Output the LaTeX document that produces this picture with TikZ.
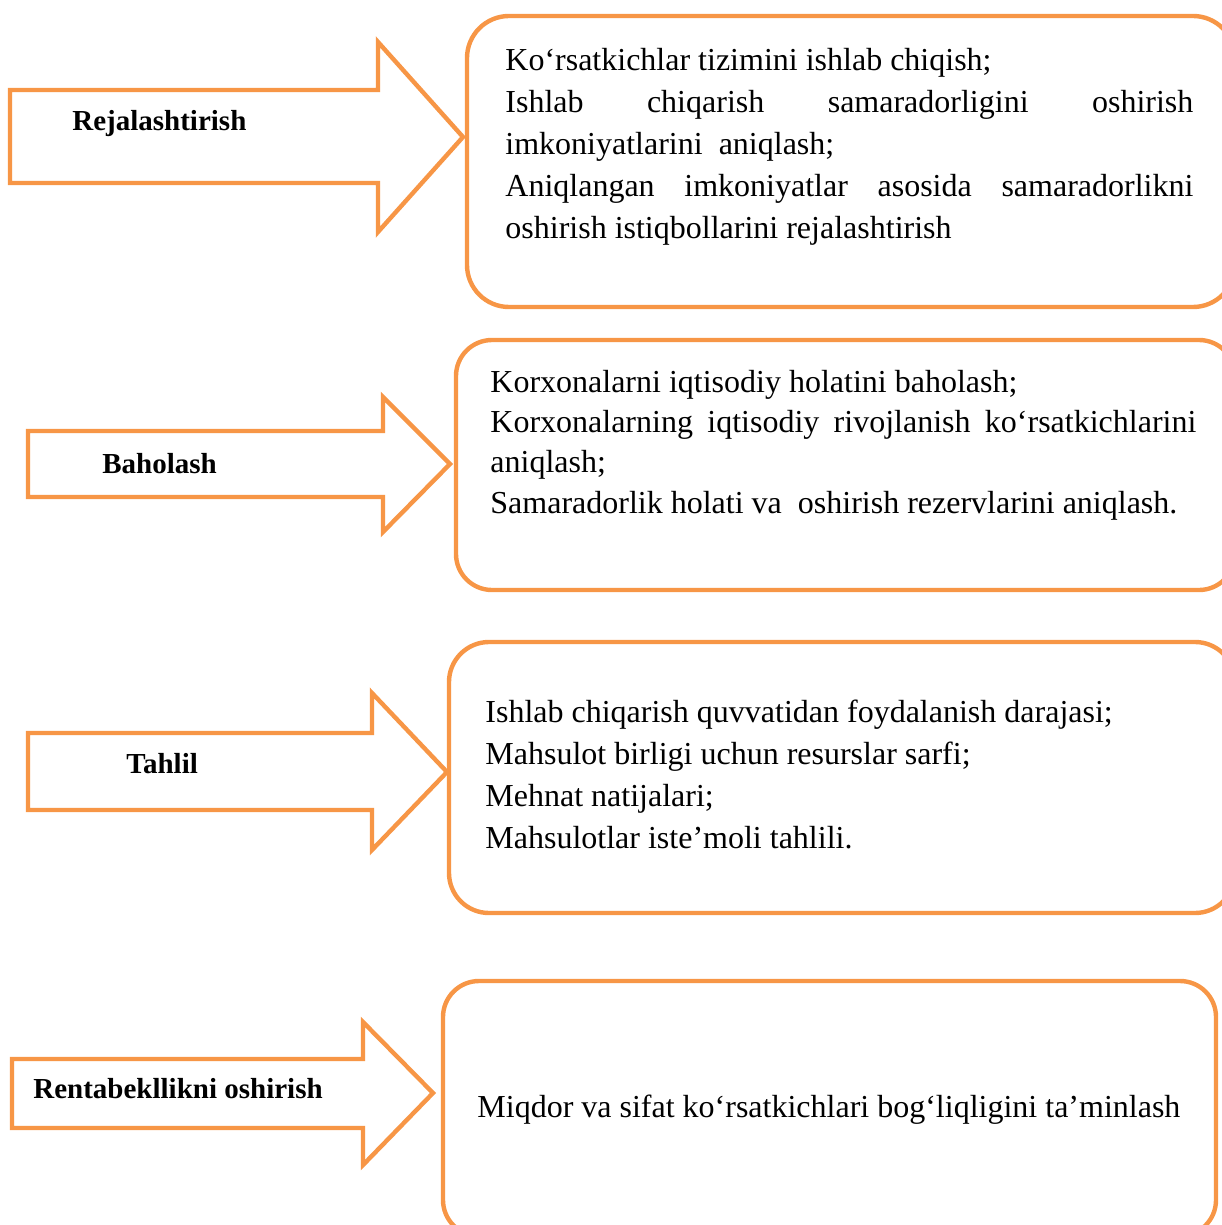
\documentclass[tikz,border=0pt]{standalone}
\usepackage{fontspec}
\setmainfont{Liberation Serif}
\usetikzlibrary{positioning}
\definecolor{accentorange}{RGB}{247,150,70}
\hyphenpenalty=10000
\exhyphenpenalty=10000
\tolerance=10000

\begin{document}
\begin{tikzpicture}[x=0.5pt, y=-0.5pt]
			\tikzstyle{blockarrow} = [draw=accentorange, line width=2.2pt, fill=white, line join=miter]
			\tikzstyle{card} = [draw=accentorange, line width=2.2pt, fill=white]
			\tikzstyle{stage} = [anchor=base west, inner sep=0pt, font=\fontsize{14.5}{17}\selectfont\bfseries]
			\tikzstyle{notes} = [anchor=base west, inner sep=0pt, align=justify, font=\fontsize{16}{21}\selectfont]

			\useasboundingbox (0,0) rectangle (1221,1225);

			% arrows on the left
			\draw[blockarrow] (10,90) -- (378,90) -- (378,42) -- (463,137) -- (378,232) -- (378,183) -- (10,183) -- cycle;
			\draw[blockarrow] (28,431) -- (383,431) -- (383,397) -- (450,464) -- (383,532) -- (383,497) -- (28,497) -- cycle;
			\draw[blockarrow] (28,733) -- (372,733) -- (372,693) -- (447,772) -- (372,850) -- (372,810) -- (28,810) -- cycle;
			\draw[blockarrow] (12,1059) -- (363,1059) -- (363,1022) -- (433,1093) -- (363,1165) -- (363,1128) -- (12,1128) -- cycle;

			% rounded boxes on the right
			\draw[card, rounded corners=21pt] (467,16) rectangle (1235,307);
			\draw[card, rounded corners=18pt] (456,340) rectangle (1235,590);
			\draw[card, rounded corners=20pt] (449,642) rectangle (1235,913);
			\draw[card, rounded corners=18pt] (443,981) rectangle (1216,1236);

			% labels
			\node[stage] (plan) at (72,131) {Rejalashtirish};
			\node[stage] (assess) at (102,473) {Baholash};
			\node[stage] (analysis) at (126,773) {Tahlil};
			\node[stage] (profit) at (33,1098) {Rentabekllikni oshirish};

			% texts
			\node[notes, text width=344pt] (plantext) at (505,71) {Ko‘rsatkichlar tizimini ishlab chiqish;\par
				Ishlab chiqarish samaradorligini oshirish imkoniyatlarini\ \ aniqlash;\par
				Aniqlangan imkoniyatlar asosida samaradorlikni oshirish istiqbollarini rejalashtirish};
			\node[notes, text width=353pt, font=\fontsize{16}{20.2}\selectfont] (assesstext) at (490,392) {Korxonalarni iqtisodiy holatini baholash;\par
				Korxonalarning iqtisodiy rivojlanish ko‘rsatkichlarini aniqlash;\par
				Samaradorlik holati va\ \ oshirish rezervlarini aniqlash.};
			\node[notes, text width=360pt] (analysistext) at (485,722) {Ishlab chiqarish quvvatidan foydalanish darajasi;\par
				Mahsulot birligi uchun resurslar sarfi;\par
				Mehnat natijalari;\par
				Mahsulotlar iste’moli tahlili.};
			\node[notes, text width=370pt] (profittext) at (477,1117) {Miqdor va sifat ko‘rsatkichlari bog‘liqligini ta’minlash};
		\end{tikzpicture}
\end{document}
